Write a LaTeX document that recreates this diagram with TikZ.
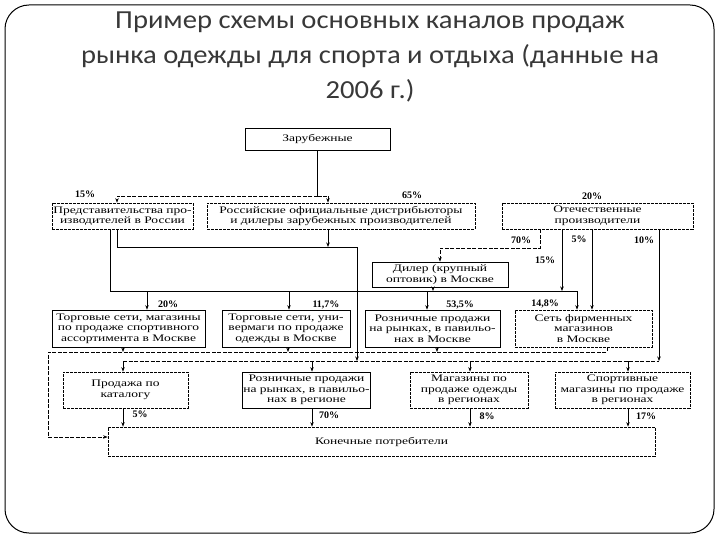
\documentclass[tikz,border=0pt]{standalone}
\usepackage{fontspec}
\setmainfont{Liberation Serif}
\newfontfamily\boxfont[FakeStretch=1.35]{Liberation Serif}
\newfontfamily\titlefont[FakeStretch=1.1]{Carlito}
\usetikzlibrary{arrows.meta}
\begin{document}
\begin{tikzpicture}[x=1pt,y=-1pt,
  box/.style={draw, line width=0.7pt, inner sep=1pt, align=center,
    font=\boxfont\fontsize{10}{10.5}\selectfont},
  dbox/.style={box, dash pattern=on 3pt off 1pt},
  pct/.style={font=\bfseries\fontsize{10}{10}\selectfont, inner sep=0pt},
  ln/.style={line width=0.7pt},
  dln/.style={ln, dash pattern=on 4pt off 1.5pt},
  arr/.style={ln, -{Stealth[length=4.5pt,width=3.5pt]}}]
\useasboundingbox (0,0) rectangle (720,540);
\draw[line width=1pt, rounded corners=24pt] (5,5) rectangle (714,533);
\node[font=\titlefont\fontsize{26}{35}\selectfont, text=black!78, align=center] (title) at (370,57)
  {Пример схемы основных каналов продаж\\рынка одежды для спорта и отдыха (данные на\\2006 г.)};

% boxes
\node[box, minimum width=145, minimum height=22] (zar) at (317.5,139) {Зарубежные};
\node[dbox, minimum width=141, minimum height=26] (pred) at (122.5,216) {Представительства про-\\изводителей в России};
\node[dbox, minimum width=268, minimum height=26] (ros) at (341,216) {Российские официальные дистрибьюторы\\и дилеры зарубежных производителей};
\node[dbox, minimum width=191, minimum height=26] (oth) at (597.5,216) {Отечественные\\производители};
\node[box, minimum width=136, minimum height=25] (dil) at (440,274.5) {Дилер (крупный\\оптовик) в Москве};
\node[box, minimum width=153, minimum height=37] (ts) at (128.5,328.5) {Торговые сети, магазины\\по продаже спортивного\\ассортимента в Москве};
\node[box, minimum width=128, minimum height=37] (univ) at (286,328.5) {Торговые сети, уни-\\вермаги по продаже\\одежды в Москве};
\node[box, minimum width=135, minimum height=37] (rozm) at (432.5,328.5) {Розничные продажи\\на рынках, в павильо-\\нах в Москве};
\node[dbox, minimum width=137, minimum height=37] (set) at (583.5,328.5) {Сеть фирменных\\магазинов\\в Москве};
\node[dbox, minimum width=125, minimum height=36] (kat) at (125.5,390) {Продажа по\\каталогу};
\node[box, minimum width=127, minimum height=36] (rozr) at (306.5,390) {Розничные продажи\\на рынках, в павильо-\\нах в регионе};
\node[dbox, minimum width=118, minimum height=36] (mag) at (469,390) {Магазины по\\продаже одежды\\в регионах};
\node[dbox, minimum width=135, minimum height=36] (sport) at (622.5,390) {Спортивные\\магазины по продаже\\в регионах};
\node[dbox, minimum width=547, minimum height=29] (kon) at (381.5,441.5) {Конечные потребители};

% top level
\coordinate (t0) at (317.5,196);
\coordinate (t1) at (117,196);
\coordinate (t2) at (328,196);
\draw[ln] (zar.south) -- (t0);
\draw[dln, arr] (t0) -- (t1) -- (t1 |- pred.north);
\draw[dln, arr] (t0) -- (t2) -- (t2 |- ros.north);

% foreign distribution to regions
\coordinate (a1) at (117,247);
\coordinate (a2) at (357,247);
\coordinate (a3) at (328,247);
\coordinate (b2l) at (123,361);
\coordinate (b2r) at (659,361);
\draw[arr] (a1 |- pred.south) -- (a1) -- (a2) -- (a2 |- b2l);
\draw[arr] (a3 |- ros.south) -- (a3);

% middle bus
\coordinate (m1) at (110,291);
\coordinate (m2) at (577,291);
\draw[ln] (m1 |- pred.south) -- (m1) -- (m2);
\draw[arr] (m2) -- (m2 |- set.north);
\coordinate (p1) at (147,291);
\coordinate (p2) at (289,291);
\coordinate (p3) at (427,291);
\draw[arr] (p1) -- (p1 |- ts.north);
\draw[arr] (p2) -- (p2 |- univ.north);
\draw[arr] (p3) -- (p3 |- rozm.north);
\coordinate (d1) at (433,291);
\draw[arr] (d1 |- dil.south) -- (d1);

% domestic producers
\coordinate (s70a) at (540,248);
\coordinate (s70b) at (440,248);
\draw[dln, arr] (s70a |- oth.south) -- (s70a) -- (s70b) -- (s70b |- dil.north);
\coordinate (s15) at (562,291);
\draw[arr] (s15 |- oth.south) -- (s15);
\coordinate (s5) at (592,300);
\draw[arr] (s5 |- oth.south) -- (s5 |- set.north);
\draw[arr] (b2r |- oth.south) -- (b2r);

% Moscow bus to consumers
\coordinate (q1) at (48,352);
\coordinate (q2) at (607,352);
\coordinate (q3) at (48,437);
\draw[dln, arr] (q2 |- set.south) -- (q2) -- (q1) -- (q3) -- (q3 -| kon.west);
\coordinate (r1) at (123,352);
\coordinate (r2) at (288,352);
\coordinate (r3) at (437,352);
\draw[arr] (r1 |- ts.south) -- (r1);
\draw[arr] (r2 |- univ.south) -- (r2);
\draw[arr] (r3 |- rozm.south) -- (r3);

% regional bus
\coordinate (v1) at (312,361);
\coordinate (v2) at (470,361);
\coordinate (v3) at (628,361);
\draw[dln] (b2l) -- (b2r);
\draw[arr] (b2l) -- (b2l |- kat.north);
\draw[arr] (v1) -- (v1 |- rozr.north);
\draw[arr] (v2) -- (v2 |- mag.north);
\draw[arr] (v3) -- (v3 |- sport.north);

% to consumers
\draw[arr] (b2l |- kat.south) -- (b2l |- kon.north);
\draw[arr] (v1 |- rozr.south) -- (v1 |- kon.north);
\draw[arr] (v2 |- mag.south) -- (v2 |- kon.north);
\draw[arr] (v3 |- sport.south) -- (v3 |- kon.north);

% percentages
\node[pct] (l15) at (85,194) {15\%};
\node[pct] (l65) at (412,195) {65\%};
\node[pct] (l20a) at (592,196) {20\%};
\node[pct] (l70) at (521,240) {70\%};
\node[pct] (l5a) at (579,239) {5\%};
\node[pct] (l10) at (644,240) {10\%};
\node[pct] (l15b) at (545,260) {15\%};
\node[pct] (l20b) at (168,304) {20\%};
\node[pct] (l117) at (326,305) {11,7\%};
\node[pct] (l535) at (460,305) {53,5\%};
\node[pct] (l148) at (545,304) {14,8\%};
\node[pct] (l5b) at (140,414) {5\%};
\node[pct] (l70b) at (329,415) {70\%};
\node[pct] (l8) at (487,416) {8\%};
\node[pct] (l17) at (646,416) {17\%};
\end{tikzpicture}
\end{document}
